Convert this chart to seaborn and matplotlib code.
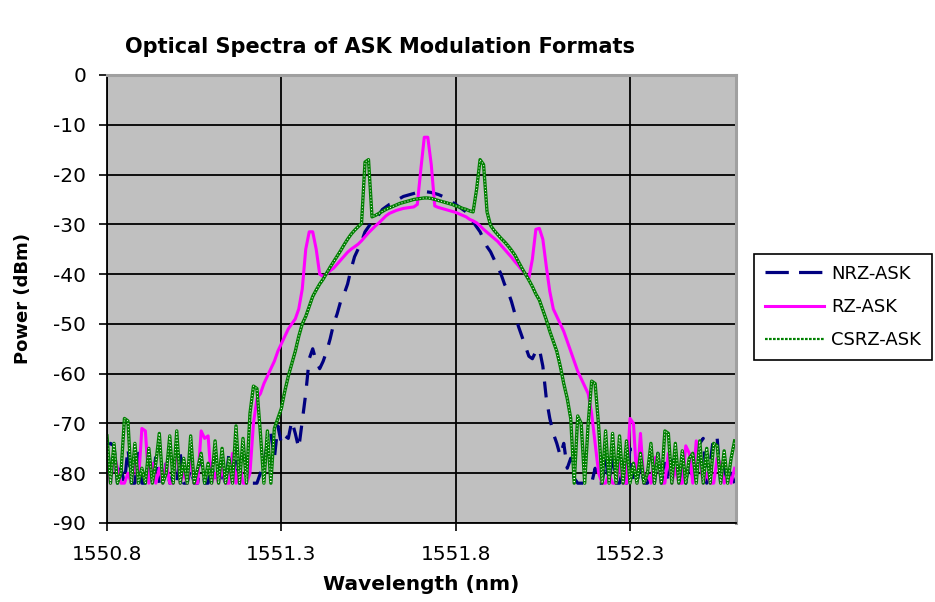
import numpy as np
import pandas as pd
import matplotlib
matplotlib.use("Agg")
import matplotlib.pyplot as plt
import seaborn as sns

# ---------------- data ----------------
wavelength = [
    1550.80, 1550.81, 1550.82, 1550.83, 1550.84, 1550.85, 1550.86, 1550.87, 1550.88, 1550.89,
    1550.90, 1550.91, 1550.92, 1550.93, 1550.94, 1550.95, 1550.96, 1550.97, 1550.98, 1550.99,
    1551.00, 1551.01, 1551.02, 1551.03, 1551.04, 1551.05, 1551.06, 1551.07, 1551.08, 1551.09,
    1551.10, 1551.11, 1551.12, 1551.13, 1551.14, 1551.15, 1551.16, 1551.17, 1551.18, 1551.19,
    1551.20, 1551.21, 1551.22, 1551.23, 1551.24, 1551.25, 1551.26, 1551.27, 1551.28, 1551.29,
    1551.30, 1551.31, 1551.32, 1551.33, 1551.34, 1551.35, 1551.36, 1551.37, 1551.38, 1551.39,
    1551.40, 1551.41, 1551.42, 1551.43, 1551.44, 1551.45, 1551.46, 1551.47, 1551.48, 1551.49,
    1551.50, 1551.51, 1551.52, 1551.53, 1551.54, 1551.55, 1551.56, 1551.57, 1551.58, 1551.59,
    1551.60, 1551.61, 1551.62, 1551.63, 1551.64, 1551.65, 1551.66, 1551.67, 1551.68, 1551.69,
    1551.70, 1551.71, 1551.72, 1551.73, 1551.74, 1551.75, 1551.76, 1551.77, 1551.78, 1551.79,
    1551.80, 1551.81, 1551.82, 1551.83, 1551.84, 1551.85, 1551.86, 1551.87, 1551.88, 1551.89,
    1551.90, 1551.91, 1551.92, 1551.93, 1551.94, 1551.95, 1551.96, 1551.97, 1551.98, 1551.99,
    1552.00, 1552.01, 1552.02, 1552.03, 1552.04, 1552.05, 1552.06, 1552.07, 1552.08, 1552.09,
    1552.10, 1552.11, 1552.12, 1552.13, 1552.14, 1552.15, 1552.16, 1552.17, 1552.18, 1552.19,
    1552.20, 1552.21, 1552.22, 1552.23, 1552.24, 1552.25, 1552.26, 1552.27, 1552.28, 1552.29,
    1552.30, 1552.31, 1552.32, 1552.33, 1552.34, 1552.35, 1552.36, 1552.37, 1552.38, 1552.39,
    1552.40, 1552.41, 1552.42, 1552.43, 1552.44, 1552.45, 1552.46, 1552.47, 1552.48, 1552.49,
    1552.50, 1552.51, 1552.52, 1552.53, 1552.54, 1552.55, 1552.56, 1552.57, 1552.58, 1552.59,
    1552.60,
]

nrz_ask = [
    -80, -74, -74.5, -82, -79, -82, -75, -82, -82, -76,
    -82, -82, -79, -82, -76.5, -82, -82, -78, -82, -80,
    -82, -76, -82, -82, -79, -82, -82, -77, -82, -82,
    -78, -82, -82, -80, -82, -76, -82, -77, -82, -82,
    -82, -82, -82, -82, -80, -78, -74, -72, -77, -70.5,
    -74, -72.5, -73, -69.5, -72, -75, -69.5, -64, -57, -55,
    -57.5, -59, -57.5, -55.5, -53, -50, -48, -45.5, -44, -42,
    -39, -36.5, -35, -33.5, -31.5, -30.5, -29.5, -28.5, -28, -27,
    -26.5, -26, -25.8, -25.2, -24.8, -24.4, -24.2, -24, -23.8, -23.6,
    -23.5, -23.4, -23.5, -23.6, -23.8, -24, -24.3, -24.6, -25, -25.5,
    -26, -26.5, -27, -27.5, -28.5, -29.5, -30.5, -31.5, -33, -34.5,
    -35.5, -37, -38.5, -40, -42, -43.5, -45.5, -48, -50.5, -52.5,
    -54.5, -56.5, -57, -55.5, -55, -58.5, -65, -69, -72, -74,
    -76.5, -74, -79, -77, -81, -82, -82, -82, -82, -82,
    -79, -82, -82, -77, -82, -76, -82, -82, -79, -82,
    -75, -82, -82, -78, -82, -82, -80, -82, -76, -82,
    -78, -82, -76, -82, -82, -79, -82, -77, -82, -76,
    -74, -73, -82, -78, -72.5, -73, -82, -79, -82, -80,
    -82,
]

rz_ask = [
    -78, -82, -76, -79, -82, -82, -80, -82, -77, -82,
    -71, -71.5, -82, -78, -82, -79, -82, -78, -82, -82,
    -74, -82, -80, -82, -77, -82, -82, -71.5, -73, -72.5,
    -82, -80, -82, -79, -82, -82, -76, -82, -78, -82,
    -82, -80, -70, -65, -64, -62, -60.5, -59, -57.5, -55.5,
    -54, -52.5, -51, -50, -49, -47, -43, -35, -31.5, -31.5,
    -35, -40, -40.5, -40, -39.3, -38.8, -38, -37.2, -36.4, -35.6,
    -35, -34.5, -34, -33.3, -32.5, -31.7, -31, -30.3, -29.7, -29,
    -28.3, -27.8, -27.5, -27.2, -27, -26.8, -26.7, -26.6, -26.5, -26,
    -19, -12.5, -12.5, -18, -26.3, -26.6, -26.8, -27, -27.2, -27.4,
    -27.6, -27.9, -28.2, -28.5, -29, -29.3, -29.7, -30.3, -31, -31.6,
    -32.2, -32.8, -33.4, -34.2, -35, -35.8, -36.6, -37.5, -38.3, -39.2,
    -40, -40.8, -37, -31, -30.8, -33, -38.5, -43.5, -47, -48.5,
    -50, -51.5, -53.5, -55.5, -57.5, -59.5, -61, -62.5, -64, -68,
    -74, -80, -82, -82, -80, -82, -82, -78, -82, -82,
    -69, -70, -82, -72, -82, -80, -82, -77, -76.5, -82,
    -82, -76, -82, -79, -82, -82, -74.5, -76, -82, -73.5,
    -77, -82, -80, -82, -82, -77, -78, -82, -80, -82,
    -79,
]

csrz_ask = [
    -72.5, -82, -74, -82, -80, -69, -69.5, -82, -74, -82,
    -79, -82, -75, -82, -78, -72, -82, -80, -72.5, -82,
    -71.5, -82, -77, -82, -72.5, -82, -79, -76, -82, -78,
    -82, -73.5, -82, -75, -82, -77, -82, -70.5, -82, -73,
    -82, -68, -62.5, -63, -72, -82, -71.5, -82, -71, -69,
    -67, -63.5, -60.5, -58, -55.5, -52.5, -50, -48.5, -46.5, -44.5,
    -43.2, -42, -41, -39.8, -38.6, -37.5, -36.4, -35.3, -34.1, -33,
    -32, -31.2, -30.5, -29.8, -17.5, -17, -28.5, -28.2, -27.8, -27.4,
    -27, -26.7, -26.4, -26.1, -25.8, -25.6, -25.4, -25.2, -25, -24.9,
    -24.8, -24.7, -24.7, -24.8, -25, -25.2, -25.4, -25.6, -25.8, -26,
    -26.3, -26.5, -26.8, -27, -27.3, -27.5, -23, -17, -18, -27.5,
    -30.2, -31.2, -32, -32.8, -33.5, -34.3, -35.2, -36.2, -37.5, -38.8,
    -40, -41.2, -42.5, -44, -45.2, -47.2, -49.2, -51.5, -53.5, -55.5,
    -58.5, -62, -65, -69, -82, -68.5, -70, -82, -70, -61.5,
    -62, -70.5, -82, -71.5, -82, -72, -82, -72.5, -82, -73.5,
    -82, -78, -82, -76, -82, -80, -74, -82, -76, -82,
    -71.5, -72, -82, -74, -82, -75.5, -82, -77, -76, -82,
    -73.5, -82, -75, -82, -74, -74.5, -82, -75.5, -82, -77,
    -73.5,
]

series_names = ["NRZ-ASK", "RZ-ASK", "CSRZ-ASK"]
x_ticks = [1550.8, 1551.3, 1551.8, 1552.3]
y_ticks = [0, -10, -20, -30, -40, -50, -60, -70, -80, -90]

df = pd.DataFrame({
    "wavelength": wavelength * 3,
    "power": nrz_ask + rz_ask + csrz_ask,
    "series": [series_names[0]] * len(nrz_ask)
              + [series_names[1]] * len(rz_ask)
              + [series_names[2]] * len(csrz_ask),
})

# ---------------- figure ----------------
plt.rcParams["font.family"] = ["DejaVu Sans"]
fig = plt.figure(figsize=(9.35, 6.02), dpi=100)
ax = fig.add_axes([107 / 935, 1 - 523 / 602, (736 - 107) / 935, (523 - 75) / 602])
ax.set_facecolor("#C0C0C0")

sns.lineplot(data=df[df.series == "NRZ-ASK"], x="wavelength", y="power",
             estimator=None, sort=False, color="#000080", linewidth=2.3, ax=ax)
nrz_line = ax.lines[-1]
nrz_line.set_dashes([5, 3.8])

sns.lineplot(data=df[df.series == "RZ-ASK"], x="wavelength", y="power",
             estimator=None, sort=False, color="#FF00FF", linewidth=2.2, ax=ax)
rz_line = ax.lines[-1]

sns.lineplot(data=df[df.series == "CSRZ-ASK"], x="wavelength", y="power",
             estimator=None, sort=False, color="#008000", linewidth=2.4, ax=ax)
cs_line = ax.lines[-1]
sns.lineplot(data=df[df.series == "CSRZ-ASK"], x="wavelength", y="power",
             estimator=None, sort=False, color="white", linewidth=0.7, ax=ax)
cs_dots = ax.lines[-1]
cs_dots.set_dashes([1, 2.2])

ax.set_xlim(1550.8, 1552.604)
ax.set_ylim(-90, 0)
ax.set_xticks(x_ticks)
ax.set_xticklabels([f"{v:.1f}" for v in x_ticks])
ax.set_yticks(y_ticks)
ax.set_yticklabels([str(v) for v in y_ticks])

ax.grid(True, color="black", linewidth=1.3)
ax.set_axisbelow(True)
ax.tick_params(axis="both", direction="out", length=6, width=1.2, colors="black",
               labelsize=14.5)
ax.tick_params(axis="x", pad=10)
ax.tick_params(axis="y", pad=9)

for s in ["left", "bottom"]:
    ax.spines[s].set_color("black")
    ax.spines[s].set_linewidth(1.3)
for s in ["top", "right"]:
    ax.spines[s].set_color("#A0A0A0")
    ax.spines[s].set_linewidth(2.2)

ax.set_xlabel("Wavelength (nm)", fontsize=14.5, fontweight="bold", labelpad=8)
ax.set_ylabel("Power (dBm)", fontsize=13, fontweight="bold", labelpad=15)

fig.text(380 / 935, 1 - 47 / 602, "Optical Spectra of ASK Modulation Formats",
         ha="center", va="center", fontsize=15, fontweight="bold")

leg = ax.legend(handles=[nrz_line, rz_line, cs_line],
                labels=series_names,
                loc="center", bbox_to_anchor=(843 / 935, 1 - 307 / 602),
                bbox_transform=fig.transFigure,
                fontsize=13, frameon=True, fancybox=False, shadow=False,
                edgecolor="black", facecolor="white", framealpha=1,
                handlelength=3.3, handletextpad=0.4, labelspacing=0.85,
                borderpad=0.6)
leg.get_frame().set_linewidth(1.2)
leg_lines = leg.get_lines()
leg_lines[0].set_dashes([7.3, 3.2])
leg_lines[2].set_linewidth(1.6)
leg_lines[2].set_dashes([1.2, 0.6])

fig.savefig("out.png", dpi=100, facecolor="white")
